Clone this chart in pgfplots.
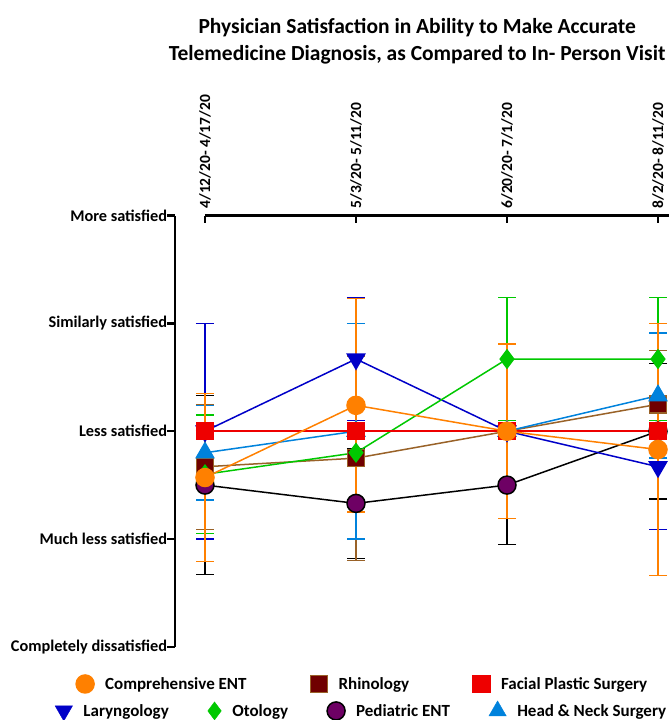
\documentclass[border=0pt]{standalone}
\usepackage{fontspec}
\setmainfont{Carlito}
\usepackage{pgfplots}
\pgfplotsset{compat=1.18}
\definecolor{cOr}{RGB}{255,128,0}
\definecolor{cBr}{RGB}{153,98,40}
\definecolor{cBrF}{RGB}{112,0,0}
\definecolor{cRd}{RGB}{238,0,0}
\definecolor{cBl}{RGB}{0,0,200}
\definecolor{cGr}{RGB}{0,200,0}
\definecolor{cPu}{RGB}{110,0,100}
\definecolor{cLb}{RGB}{0,130,220}
\pgfplotsset{
  ebar/.style={error bars/.cd, y dir=both, y explicit,
    error bar style={line width=1.5pt, #1},
    error mark options={rotate=90, mark size=9pt, line width=1.5pt, #1}},
}
\begin{document}
\begin{tikzpicture}
\begin{axis}[
  name=ax, at={(0,0)}, anchor=south west,
  scale only axis, width=513.4pt, height=431pt,
  xmin=-0.2, xmax=3.2, ymin=1, ymax=5,
  clip=false,
  axis x line*=top, axis y line*=left,
  x axis line style={draw=none},
  y axis line style={line width=2.4pt, -},
  xtick={0,1,2,3},
  xticklabels={4/12/20- 4/17/20, 5/3/20- 5/11/20, 6/20/20- 7/1/20, 8/2/20- 8/11/20},
  ytick={1,2,3,4,5},
  yticklabels={Completely dissatisfied, Much less satisfied, Less satisfied, Similarly satisfied, More satisfied},
  xtick align=inside, ytick align=outside,
  major tick length=7.5pt,
  tick style={line width=2.4pt, black},
  xticklabel shift=5pt,
  xticklabel style={rotate=90, anchor=west, font=\bfseries\fontsize{15.5}{18}\selectfont, inner sep=2pt},
  yticklabel style={font=\bfseries\fontsize{16.3}{19}\selectfont, inner sep=0pt},
  every axis plot/.append style={line width=1.5pt},
  legend columns=3,
  legend style={draw=none, fill=none, at={(0.366,-0.0865)}, anchor=center,
    font=\bfseries\fontsize{17}{20}\selectfont,
    /tikz/every even column/.append style={column sep=62pt},
    /tikz/every odd column/.append style={column sep=9pt}},
  legend cell align=left,
]
\draw[line width=2.4pt] (axis cs:0,5) -- (axis cs:3.3,5);
\node[align=center, font=\bfseries\fontsize{21.5}{27}\selectfont] at (rel axis cs:0.472,1.405)
  {Physician Satisfaction in Ability to Make Accurate\\Telemedicine Diagnosis, as Compared to In- Person Visit};

% Pediatric ENT
\addplot[forget plot, color=black, mark=*, mark size=9pt, mark options={fill=cPu, draw=black}, ebar=black]
  table[x=x, y=y, y error=e] {
x y e
0 2.50 0.83
1 2.33 0.51
2 2.50 0.55
3 3.00 0.63
};
% Rhinology
\addplot[forget plot, color=cBr, mark=square*, mark size=8.5pt, mark options={fill=cBrF, draw=cBr}, ebar=cBr]
  table[x=x, y=y, y error=e] {
x y e
0 2.67 0.58
1 2.75 0.95
2 3.00 0.00
3 3.25 0.50
};
% Laryngology
\addplot[forget plot, color=cBl, mark=triangle*, mark size=10pt, mark options={fill=cBl, draw=cBl, rotate=180}, ebar=cBl]
  table[x=x, y=y, y error=e] {
x y e
0 3.00 1.00
1 3.67 0.57
2 3.00 0.00
3 2.67 0.58
};
% Otology
\addplot[forget plot, color=cGr, mark=diamond*, mark size=9pt, mark options={fill=cGr, draw=cGr}, ebar=cGr]
  table[x=x, y=y, y error=e] {
x y e
0 2.60 0.55
1 2.80 0.44
2 3.67 0.57
3 3.67 0.57
};
% Head & Neck Surgery
\addplot[forget plot, color=cLb, mark=triangle*, mark size=10pt, mark options={fill=cLb, draw=cLb}, ebar=cLb]
  table[x=x, y=y, y error=e] {
x y e
0 2.80 0.44
1 3.00 1.00
2 3.00 0.00
3 3.33 0.58
};
% Facial Plastic Surgery
\addplot[forget plot, color=cRd, mark=square*, mark size=8.5pt, mark options={fill=cRd, draw=cRd}, ebar=cRd]
  table[x=x, y=y, y error=e] {
x y e
0 3.00 0.00
1 3.00 0.00
2 3.00 0.00
3 3.00 0.00
};
% Comprehensive ENT
\addplot[forget plot, color=cOr, mark=*, mark size=9pt, mark options={fill=cOr, draw=cOr}, ebar=cOr]
  table[x=x, y=y, y error=e] {
x y e
0 2.57 0.78
1 3.24 0.99
2 3.00 0.81
3 2.83 1.17
};

\addlegendimage{only marks, mark=*, mark size=9pt, mark options={fill=cOr, draw=cOr}}
\addlegendentry{Comprehensive ENT}
\addlegendimage{only marks, mark=square*, mark size=8.5pt, mark options={fill=cBrF, draw=cBr, line width=1.5pt}}
\addlegendentry{Rhinology}
\addlegendimage{only marks, mark=square*, mark size=8.5pt, mark options={fill=cRd, draw=cRd}}
\addlegendentry{Facial Plastic Surgery}
\end{axis}

\begin{axis}[
  at={(0,0)}, anchor=south west,
  scale only axis, width=513.4pt, height=431pt,
  xmin=0, xmax=1, ymin=0, ymax=1, hide axis,
  legend columns=4,
  legend style={draw=none, fill=none, at={(0.364,-0.149)}, anchor=center,
    font=\bfseries\fontsize{17}{20}\selectfont,
    /tikz/every even column/.append style={column sep=37pt},
    /tikz/every odd column/.append style={column sep=9pt}},
  legend cell align=left,
]
\addlegendimage{only marks, mark=triangle*, mark size=10pt, mark options={fill=cBl, draw=cBl, rotate=180}}
\addlegendentry{Laryngology}
\addlegendimage{only marks, mark=diamond*, mark size=9pt, mark options={fill=cGr, draw=cGr}}
\addlegendentry{Otology}
\addlegendimage{only marks, mark=*, mark size=9pt, mark options={fill=cPu, draw=black, line width=1.5pt}}
\addlegendentry{Pediatric ENT}
\addlegendimage{only marks, mark=triangle*, mark size=10pt, mark options={fill=cLb, draw=cLb}}
\addlegendentry{Head \& Neck Surgery}
\end{axis}

\pgfresetboundingbox
\path[use as bounding box] (-174.8pt,-73.3pt) rectangle (494.2pt,646.7pt);
\end{tikzpicture}
\end{document}
